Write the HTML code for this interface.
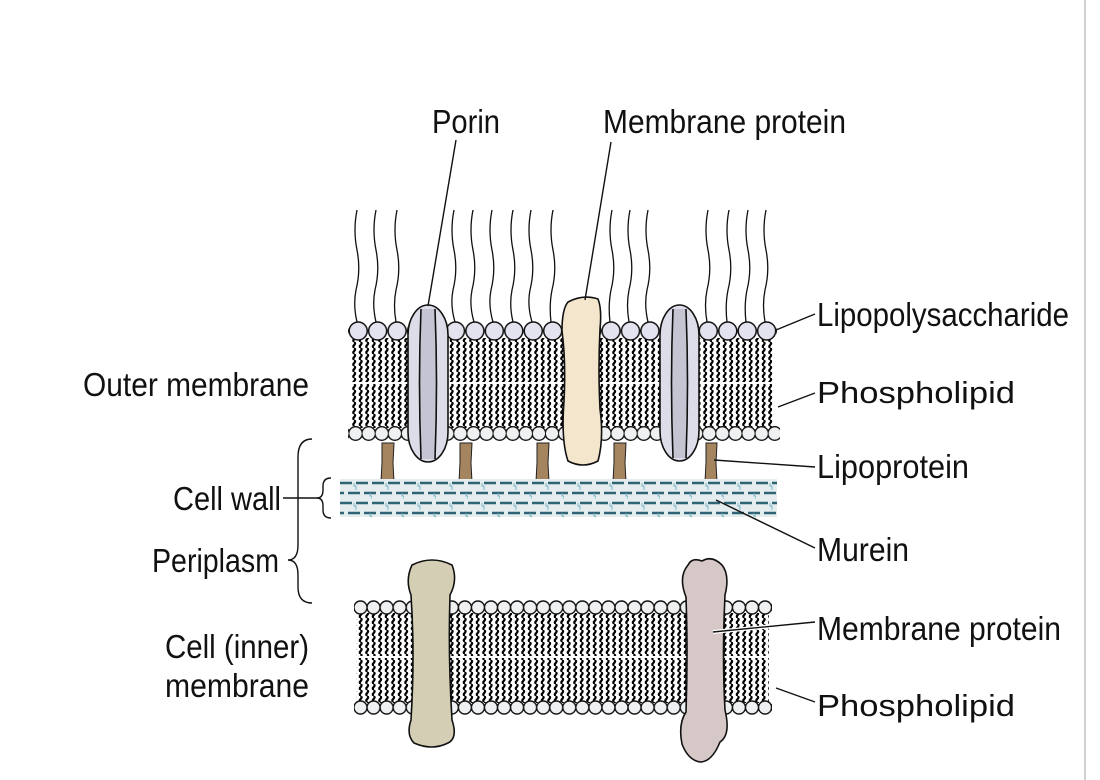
<!DOCTYPE html>
<html><head><meta charset="utf-8"><style>
html,body{margin:0;padding:0;background:#fff}
svg{display:block}
text{font-family:"Liberation Sans",sans-serif;font-size:33px;fill:#111}
</style></head><body>
<svg width="1100" height="780" viewBox="0 0 1100 780" xmlns="http://www.w3.org/2000/svg">
<defs>
<pattern id="tails" x="0" y="0" width="6.5" height="6" patternUnits="userSpaceOnUse">
<path d="M3.2,0 q1.8,1.5 0,3 q-1.8,1.5 0,3" fill="none" stroke="#000" stroke-width="2.2"/>
</pattern>
<pattern id="headsBig" x="348.5" y="321" width="19.45" height="40" patternUnits="userSpaceOnUse">
<circle cx="9.7" cy="10" r="9" fill="#e2e3ef" stroke="#111" stroke-width="1.5"/>
</pattern>
<pattern id="headsSm" x="349" y="425" width="13.1" height="40" patternUnits="userSpaceOnUse">
<circle cx="6.55" cy="8.5" r="6.8" fill="#eef0f1" stroke="#111" stroke-width="1.4"/>
</pattern>
<pattern id="headsIn" x="354" y="599" width="13.05" height="40" patternUnits="userSpaceOnUse">
<circle cx="6.5" cy="8.5" r="6.5" fill="#eef0f1" stroke="#111" stroke-width="1.4"/>
</pattern>
<pattern id="headsIn2" x="354" y="699" width="13.05" height="40" patternUnits="userSpaceOnUse">
<circle cx="6.5" cy="8.5" r="6.5" fill="#eef0f1" stroke="#111" stroke-width="1.4"/>
</pattern>
<pattern id="murein" x="340" y="480" width="32" height="20" patternUnits="userSpaceOnUse">
<path d="M0,3 h12 M16,3 h12 M8,13 h12 M24,13 h8 M0,13 h4" stroke="#2e6473" stroke-width="2.4"/>
<path d="M14,3 v3 h2 v4 M30,13 v3 h2 v3" stroke="#6fb0c4" stroke-width="0.9" fill="none"/>
</pattern>
</defs>
<line x1="1085" y1="0" x2="1085" y2="780" stroke="#d0d0d0" stroke-width="2"/>

<g fill="none" stroke="#111" stroke-width="1.3">
<path d="M357,210 q-4,20 0,40 q4,20 -1,40 q-3,15 1,32"/>
<path d="M376,210 q-4,20 0,40 q4,20 -1,40 q-3,15 1,32"/>
<path d="M397,210 q-4,20 0,40 q4,20 -1,40 q-3,15 0,32"/>
<path d="M454,210 q-4,20 0,40 q4,20 -1,40 q-3,15 2,32"/>
<path d="M473,210 q-4,20 0,40 q4,20 -1,40 q-3,15 2,32"/>
<path d="M492,210 q-4,20 0,40 q4,20 -1,40 q-3,15 2,32"/>
<path d="M513,210 q-4,20 0,40 q4,20 -1,40 q-3,15 1,32"/>
<path d="M531,210 q-4,20 0,40 q4,20 -1,40 q-3,15 2,32"/>
<path d="M553,210 q-4,20 0,40 q4,20 -1,40 q-3,15 -1,32"/>
<path d="M612,210 q-4,20 0,40 q4,20 -1,40 q-3,15 -1,32"/>
<path d="M630,210 q-4,20 0,40 q4,20 -1,40 q-3,15 0,32"/>
<path d="M648,210 q-4,20 0,40 q4,20 -1,40 q-3,15 1,32"/>
<path d="M708,210 q-4,20 0,40 q4,20 -1,40 q-3,15 0,32"/>
<path d="M729,210 q-4,20 0,40 q4,20 -1,40 q-3,15 -1,32"/>
<path d="M748,210 q-4,20 0,40 q4,20 -1,40 q-3,15 -1,32"/>
<path d="M766,210 q-4,20 0,40 q4,20 -1,40 q-3,15 0,32"/>
</g>

<rect x="351" y="338" width="423" height="90" fill="url(#tails)"/>
<line x1="350" y1="383" x2="775" y2="383" stroke="#fff" stroke-width="2"/>
<rect x="348" y="320" width="429" height="22" fill="url(#headsBig)"/>
<rect x="348" y="425" width="432" height="18" fill="url(#headsSm)"/>

<g fill="#a4855f" stroke="#222" stroke-width="1">
<path d="M382,443 h12 l-1,20 l1,19 h-13 l1,-20z"/>
<path d="M460,443 h12 l-1,20 l1,19 h-13 l1,-20z"/>
<path d="M537,443 h12 l-1,20 l1,19 h-13 l1,-20z"/>
<path d="M614,443 h12 l-1,20 l1,19 h-13 l1,-20z"/>
<path d="M706,443 h11 l-1,20 l1,19 h-12 l1,-20z"/>
</g>

<rect x="340" y="479" width="437" height="38" fill="#e6edef"/>
<rect x="340" y="480" width="437" height="38" fill="url(#murein)"/>

<g stroke="#111" stroke-width="1.6">
<rect x="408" y="305" width="40" height="157" rx="20" ry="30" fill="#dcdde8"/>
<path d="M421,309 q-3,74 0,150 L435,459 q3,-76 0,-150z" fill="#c4c4d2" stroke="none"/>
<path d="M421,309 q-3,74 0,150 M435,309 q3,74 0,150" fill="none"/>
<rect x="660" y="305" width="39" height="156" rx="20" ry="30" fill="#dcdde8"/>
<path d="M673,309 q-3,74 0,149 L686,458 q3,-75 0,-149z" fill="#c4c4d2" stroke="none"/>
<path d="M673,309 q-3,74 0,149 M686,309 q3,74 0,149" fill="none"/>
<path d="M568,302 q15,-8 30,-3 q4,10 2,30 q-2,40 0,80 q4,30 -2,52 q-15,8 -30,0 q-7,-20 -4,-60 q2,-40 -2,-70 q0,-22 6,-29z" fill="#f4e6cc"/>
</g>

<rect x="356" y="613" width="413" height="90" fill="url(#tails)"/>
<line x1="355" y1="657" x2="770" y2="657" stroke="#fff" stroke-width="2"/>
<rect x="354" y="599" width="418" height="17" fill="url(#headsIn)"/>
<rect x="354" y="699" width="418" height="18" fill="url(#headsIn2)"/>
<g stroke="#111" stroke-width="1.6">
<path d="M412,565 q20,-10 40,0 q6,15 -2,30 q-2,60 2,125 q6,18 -4,23 q-16,8 -34,0 q-8,-8 -3,-23 q4,-65 0,-125 q-6,-15 1,-30z" fill="#d4cfb4"/>
<path d="M688,565 q4,-8 14,-4 q10,-6 20,4 q8,10 3,30 q-3,60 0,115 q6,25 -5,32 q-8,20 -20,20 q-12,-2 -18,-18 q-4,-20 4,-32 q2,-60 0,-115 q-8,-20 2,-32z" fill="#d5c8c6"/>
</g>
<path d="M713,632 L815,622" stroke="#fff" stroke-width="4"/>

<g stroke="#111" stroke-width="1.4" fill="none">
<line x1="456" y1="140" x2="428" y2="306"/>
<line x1="611" y1="142" x2="585" y2="300"/>
<line x1="815" y1="314" x2="776" y2="330"/>
<line x1="815" y1="393" x2="778" y2="407"/>
<line x1="815" y1="467" x2="714" y2="460"/>
<line x1="815" y1="548" x2="716" y2="500"/>
<line x1="815" y1="622" x2="713" y2="632"/>
<line x1="815" y1="702" x2="776" y2="688"/>
<line x1="283" y1="498" x2="318" y2="498"/>
<path d="M312,439 q-14,0 -14,18 v88 q0,15 -10,15 q10,0 10,15 v12 q0,16 14,16"/>
<path d="M331,478 q-8,0 -8,8 v4 q0,8 -6,8 q6,0 6,8 v4 q0,8 8,8"/>
</g>

<text x="432" y="133" textLength="68" lengthAdjust="spacingAndGlyphs">Porin</text>
<text x="603" y="133" textLength="243" lengthAdjust="spacingAndGlyphs">Membrane protein</text>
<text x="817" y="326" textLength="252" lengthAdjust="spacingAndGlyphs">Lipopolysaccharide</text>
<text x="817" y="403" style="font-size:31px" textLength="198" lengthAdjust="spacingAndGlyphs">Phospholipid</text>
<text x="817" y="478" textLength="152" lengthAdjust="spacingAndGlyphs">Lipoprotein</text>
<text x="817" y="561" textLength="92" lengthAdjust="spacingAndGlyphs">Murein</text>
<text x="817" y="640" textLength="244" lengthAdjust="spacingAndGlyphs">Membrane protein</text>
<text x="817" y="716" style="font-size:31px" textLength="198" lengthAdjust="spacingAndGlyphs">Phospholipid</text>
<text x="83" y="396" textLength="226" lengthAdjust="spacingAndGlyphs">Outer membrane</text>
<text x="173" y="510" textLength="108" lengthAdjust="spacingAndGlyphs">Cell wall</text>
<text x="152" y="572" textLength="127" lengthAdjust="spacingAndGlyphs">Periplasm</text>
<text x="165" y="658" textLength="144" lengthAdjust="spacingAndGlyphs">Cell (inner)</text>
<text x="165" y="697" textLength="144" lengthAdjust="spacingAndGlyphs">membrane</text>
</svg>
</body></html>
